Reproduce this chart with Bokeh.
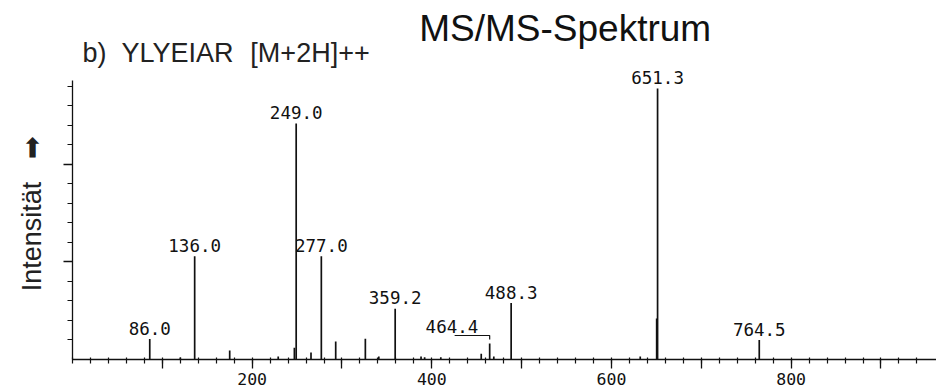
from bokeh.plotting import figure
from bokeh.models import Range1d, FixedTicker, Label, ColumnDataSource
from bokeh.core.properties import value
from bokeh.embed import file_html
from bokeh.resources import INLINE

# ---- data ----
peak_mz = [86.0, 120.0, 136.0, 175.0, 229.0, 247.0, 249.0, 265.5, 277.0, 293.0,
           326.0, 341.0, 359.2, 388.0, 392.0, 410.0, 455.0, 464.4, 469.0, 488.3,
           632.0, 650.3, 651.3, 764.5]
peak_int = [1.05, 0.1, 5.3, 0.46, 0.15, 0.6, 12.1, 0.36, 5.3, 0.92,
            1.07, 0.15, 2.6, 0.15, 0.12, 0.12, 0.3, 0.82, 0.15, 2.9,
            0.15, 2.1, 13.9, 1.0]

label_mz = [86.0, 136.0, 249.0, 277.0, 359.2, 488.3, 651.3, 764.5]
label_text = ["86.0", "136.0", "249.0", "277.0", "359.2", "488.3", "651.3", "764.5"]
bracket_mz = 464.4
bracket_text = "464.4"

x_major = [100, 200, 300, 400, 500, 600, 700, 800, 900]
x_minor = list(range(0, 960, 20))
x_labels = {100: "", 200: "200", 300: "", 400: "400", 500: "",
            600: "600", 700: "", 800: "800", 900: ""}
y_major = [5, 10]
y_minor = list(range(1, 15))

NB = "\u00a0"
title_main = "MS/MS-Spektrum"
title_peptide = "b)" + NB * 2 + "YLYEIAR"
title_ion = "[M+2H]++"
y_title = "Intensität" + NB * 3 + "➡" + NB * 9

height_of = dict(zip(peak_mz, peak_int))

# ---- figure ----
p = figure(width=936, height=392, output_backend="svg", toolbar_location=None,
           x_range=Range1d(0, 961.8), y_range=Range1d(0, 18.41),
           min_border_left=72, min_border_right=0, min_border_top=0,
           min_border_bottom=33)
p.title = None
p.outline_line_color = None
p.xgrid.visible = False
p.ygrid.visible = False
p.background_fill_color = "white"
p.border_fill_color = "white"

ink = "#111111"
mono = "DejaVu Sans Mono"

p.segment(x0=peak_mz, y0=[0] * len(peak_mz), x1=peak_mz, y1=peak_int,
          line_color=ink, line_width=1.7)

gap = 0.56
lab_src = ColumnDataSource(dict(x=label_mz, y=[height_of[m] + gap for m in label_mz],
                                t=label_text))
p.text(x="x", y="y", text="t", source=lab_src, text_align="center",
       text_baseline="middle",
       text_font=value(mono), text_font_size="17.5px", text_color=ink)

# bracketed label for 464.4
bh = height_of[bracket_mz]
p.text(x=[bracket_mz - 42], y=[bh + 0.87], text=[bracket_text],
       text_align="center", text_baseline="middle",
       text_font=value(mono), text_font_size="17.5px", text_color=ink)
p.line(x=[bracket_mz - 39, bracket_mz, bracket_mz],
       y=[bh + 0.41, bh + 0.41, bh + 0.2], line_color=ink, line_width=1.2)

# titles
p.add_layout(Label(x=386, y=16.97, text=title_main, text_font="Liberation Sans",
                   text_font_size="37px", text_color="#111111",
                   text_baseline="middle"))
p.add_layout(Label(x=11, y=15.72, text=title_peptide, text_font="Liberation Sans",
                   text_font_size="27px", text_color="#222222",
                   text_baseline="middle"))
p.add_layout(Label(x=198, y=15.72, text=title_ion, text_font="Liberation Sans",
                   text_font_size="27px", text_color="#222222",
                   text_baseline="middle"))

# x axis
xa = p.xaxis[0]
xa.ticker = FixedTicker(ticks=x_major, minor_ticks=x_minor)
xa.major_label_overrides = x_labels
xa.axis_line_color = ink
xa.axis_line_width = 1.3
xa.major_tick_line_color = ink
xa.major_tick_line_width = 1.3
xa.minor_tick_line_color = ink
xa.minor_tick_line_width = 1.2
xa.major_tick_in = 0
xa.major_tick_out = 9
xa.minor_tick_in = 2
xa.minor_tick_out = 4
xa.major_label_standoff = 4
xa.axis_label_standoff = 0
xa.major_label_text_font = mono
xa.major_label_text_font_size = "16.5px"
xa.major_label_text_color = ink

# y axis
ya = p.yaxis[0]
ya.ticker = FixedTicker(ticks=y_major, minor_ticks=y_minor)
ya.bounds = (0, 14.3)
ya.axis_line_color = ink
ya.axis_line_width = 1.3
ya.major_tick_line_color = ink
ya.major_tick_line_width = 1.3
ya.minor_tick_line_color = ink
ya.minor_tick_line_width = 1.2
ya.major_tick_in = 0
ya.major_tick_out = 9
ya.minor_tick_in = 0
ya.minor_tick_out = 5
ya.major_label_text_font_size = "0px"
ya.major_label_standoff = 0
ya.axis_label = y_title
ya.axis_label_text_font = "Liberation Sans"
ya.axis_label_text_font_size = "27px"
ya.axis_label_text_font_style = "normal"
ya.axis_label_text_color = "#222222"
ya.axis_label_standoff = 17

open("out.html", "w").write(file_html(p, INLINE))
